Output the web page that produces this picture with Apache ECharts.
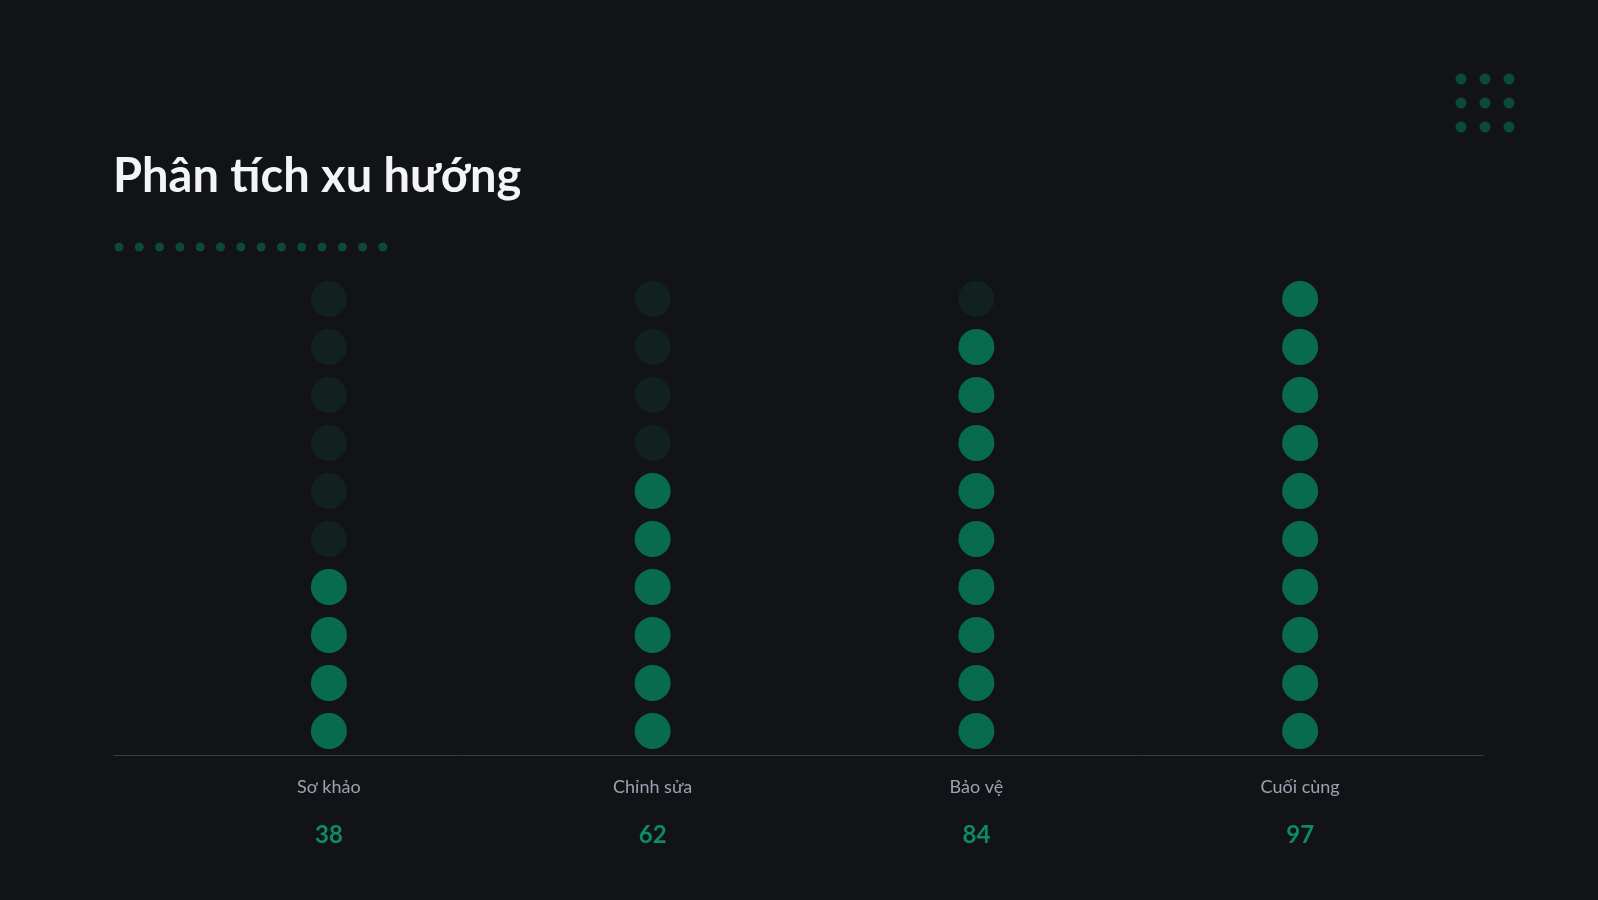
<!DOCTYPE html>
<html>
<head>
<meta charset="utf-8">
<script src="https://cdn.jsdelivr.net/npm/echarts@6/dist/echarts.min.js"></script>
<style>
html,body{margin:0;padding:0;background:#121317;}
#chart{width:1598px;height:900px;}
</style>
</head>
<body>
<div id="chart"></div>
<script>
const titleText = 'Phân tích xu hướng';
const categories = ['Sơ khảo', 'Chỉnh sửa', 'Bảo vệ', 'Cuối cùng'];
const values = [38, 62, 84, 97];
const dotsPerColumn = 10;

const maxVal = Math.max.apply(null, values);
const filledCounts = values.map(v => Math.round(v / maxVal * dotsPerColumn));

const filledData = [];
const emptyData = [];
categories.forEach((c, ci) => {
  for (let i = 0; i < dotsPerColumn; i++) {
    const pt = [ci, i + 0.5];
    if (i < filledCounts[ci]) filledData.push(pt); else emptyData.push(pt);
  }
});

const FONT = 'Lato, "Noto Sans", sans-serif';
const deco = [];
for (let i = 0; i < 14; i++) {
  deco.push({type:'circle', shape:{cx:119 + i*20.3, cy:247, r:4.5}, style:{fill:'#0b4a36'}, silent:true});
}
for (let r = 0; r < 3; r++) for (let c = 0; c < 3; c++) {
  deco.push({type:'circle', shape:{cx:1461 + c*24, cy:79 + r*24, r:5.5}, style:{fill:'#0b4a36'}, silent:true});
}

const chart = echarts.init(document.getElementById('chart'), null, {renderer:'canvas'});
chart.setOption({
  backgroundColor: '#121317',
  animation: false,
  title: {
    text: titleText, left: 108, top: 148,
    textStyle: {fontFamily: FONT, fontSize: 47, fontWeight: 'bold', color: '#f3f4f6'}
  },
  graphic: deco,
  grid: [
    {left: 167, right: 136, top: 275, bottom: 145},
    {left: 114, right: 114, top: 275, bottom: 145}
  ],
  xAxis: [
    {
      type: 'category', gridIndex: 0, data: categories, boundaryGap: true,
      axisLine: {show: false}, axisTick: {show: false}, splitLine: {show: false},
      axisLabel: {
        margin: 8, interval: 0,
        formatter: (name, idx) => '{name|' + name + '}\n{val|' + values[idx] + '}',
        rich: {
          name: {fontFamily: FONT, fontSize: 18, color: '#9ca3af', lineHeight: 48, align: 'center'},
          val: {fontFamily: FONT, fontSize: 24, fontWeight: 'bold', color: '#0c8c62', lineHeight: 48, align: 'center'}
        }
      }
    },
    {
      type: 'category', gridIndex: 1, data: [''],
      axisLine: {show: true, lineStyle: {color: '#3a3c42', width: 1}},
      axisTick: {show: false}, axisLabel: {show: false}, splitLine: {show: false}
    }
  ],
  yAxis: [
    {type: 'value', gridIndex: 0, min: 0, max: dotsPerColumn, show: false},
    {type: 'value', gridIndex: 1, min: 0, max: 1, show: false}
  ],
  series: [
    {
      name: 'empty', type: 'scatter', xAxisIndex: 0, yAxisIndex: 0,
      symbol: 'circle', symbolSize: 36, data: emptyData,
      itemStyle: {color: '#11251f'}, silent: true
    },
    {
      name: 'filled', type: 'scatter', xAxisIndex: 0, yAxisIndex: 0,
      symbol: 'circle', symbolSize: 36, data: filledData,
      itemStyle: {color: '#08825b'}, silent: true
    },
    {
      name: 'base', type: 'line', xAxisIndex: 1, yAxisIndex: 1, data: [], silent: true
    }
  ]
});
</script>
</body>
</html>
